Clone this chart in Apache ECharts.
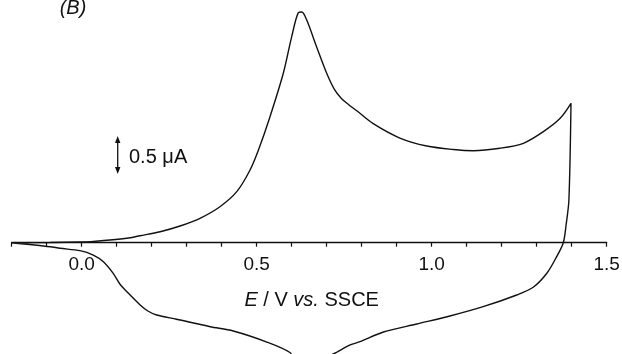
<!DOCTYPE html>
<html>
<head>
<meta charset="utf-8">
<script src="https://cdn.jsdelivr.net/npm/echarts@6/dist/echarts.min.js"></script>
<style>html,body{margin:0;padding:0;background:#fff}#c{width:622px;height:354px}</style>
</head>
<body>
<div id="c"></div>
<script>
// Anodic (forward) sweep: potential (V vs. SSCE) and current (µA)
var forwardE = [-0.2, -0.09, 0.0, 0.033, 0.129, 0.167, 0.224, 0.281, 0.338, 0.395, 0.443, 0.481, 0.505, 0.538, 0.576, 0.60, 0.619, 0.629, 0.643, 0.671, 0.70, 0.722, 0.742, 0.762, 0.786, 0.833, 0.909, 0.986, 1.062, 1.119, 1.195, 1.262, 1.319, 1.367, 1.398];
var forwardI = [0.0, 0.003, 0.01, 0.017, 0.063, 0.10, 0.157, 0.239, 0.349, 0.514, 0.729, 1.039, 1.324, 1.80, 2.42, 2.943, 3.286, 3.296, 3.18, 2.80, 2.42, 2.19, 2.06, 1.975, 1.885, 1.70, 1.495, 1.381, 1.331, 1.314, 1.349, 1.42, 1.586, 1.777, 1.991];
// Cathodic (reverse) sweep
var reverseE = [1.392, 1.384, 1.376, 1.357, 1.329, 1.29, 1.243, 1.147, 1.052, 0.957, 0.862, 0.795, 0.767, 0.719, 0.667, 0.638, 0.609, 0.595, 0.529, 0.433, 0.367, 0.271, 0.214, 0.189, 0.167, 0.129, 0.109, 0.09, 0.062, 0.033, -0.005, -0.062, -0.09, -0.2];
var reverseI = [0.61, 0.253, 0.0, -0.2, -0.437, -0.637, -0.747, -0.914, -1.047, -1.161, -1.276, -1.414, -1.461, -1.59, -1.70, -1.746, -1.69, -1.569, -1.419, -1.261, -1.2, -1.094, -1.033, -0.976, -0.89, -0.70, -0.59, -0.437, -0.271, -0.176, -0.114, -0.08, -0.057, 0.0];
// Tick labels shown on the potential axis
var tickLabels = ['0.0', '0.5', '1.0', '1.5'];

var loop = [];
for (var i = 0; i < forwardE.length; i++) loop.push([forwardE[i], forwardI[i]]);
for (var j = 0; j < reverseE.length; j++) loop.push([reverseE[j], reverseI[j]]);

var chart = echarts.init(document.getElementById('c'), null, {renderer: 'canvas'});
var font = 'Liberation Sans, Arial, Helvetica, sans-serif';
chart.setOption({
  animation: false,
  backgroundColor: '#fff',
  grid: {left: 11.7, right: 15.3, top: 0, bottom: 111.3, containLabel: false, outerBoundsMode: 'none'},
  xAxis: {
    type: 'value', min: -0.2, max: 1.5, interval: 0.1,
    axisLine: {show: true, onZero: false, lineStyle: {color: '#111', width: 1.3}},
    axisTick: {show: true, length: 4, lineStyle: {color: '#111', width: 1.2}},
    splitLine: {show: false},
    axisLabel: {
      margin: 13, fontSize: 19, color: '#111', fontFamily: font,
      formatter: function (v) {
        var k = Math.round(v * 10);
        if (k >= 0 && k % 5 === 0) {
          var s = (k / 10).toFixed(1);
          return tickLabels.indexOf(s) >= 0 ? s : '';
        }
        return '';
      }
    }
  },
  yAxis: {type: 'value', min: 0, max: 3.467, show: false, splitLine: {show: false}},
  series: [{
    type: 'line', data: loop, showSymbol: false, smooth: 0.3, clip: false,
    lineStyle: {color: '#111', width: 1.4}
  }],
  graphic: [
    {type: 'text', x: 73, y: 8, style: {text: '(B)', font: 'italic 20px ' + font, fill: '#111', textAlign: 'center', textVerticalAlign: 'middle'}},
    {type: 'line', shape: {x1: 117.7, y1: 140, x2: 117.7, y2: 170}, style: {stroke: '#111', lineWidth: 1.3}},
    {type: 'polygon', shape: {points: [[117.7, 136], [115, 143], [120.4, 143]]}, style: {fill: '#111'}},
    {type: 'polygon', shape: {points: [[117.7, 174], [115, 167], [120.4, 167]]}, style: {fill: '#111'}},
    {type: 'text', x: 129, y: 157, style: {text: '0.5 \u03bcA', font: '20px ' + font, fill: '#111', textVerticalAlign: 'middle'}},
    {type: 'text', x: 311.7, y: 300, style: {
      text: '{i|E} / V {i|vs.} SSCE', textAlign: 'center', textVerticalAlign: 'middle',
      font: '20px ' + font, fill: '#111',
      rich: {i: {fontStyle: 'italic', fontSize: 20, fontFamily: font, fill: '#111'}}
    }}
  ]
});
</script>
</body>
</html>
